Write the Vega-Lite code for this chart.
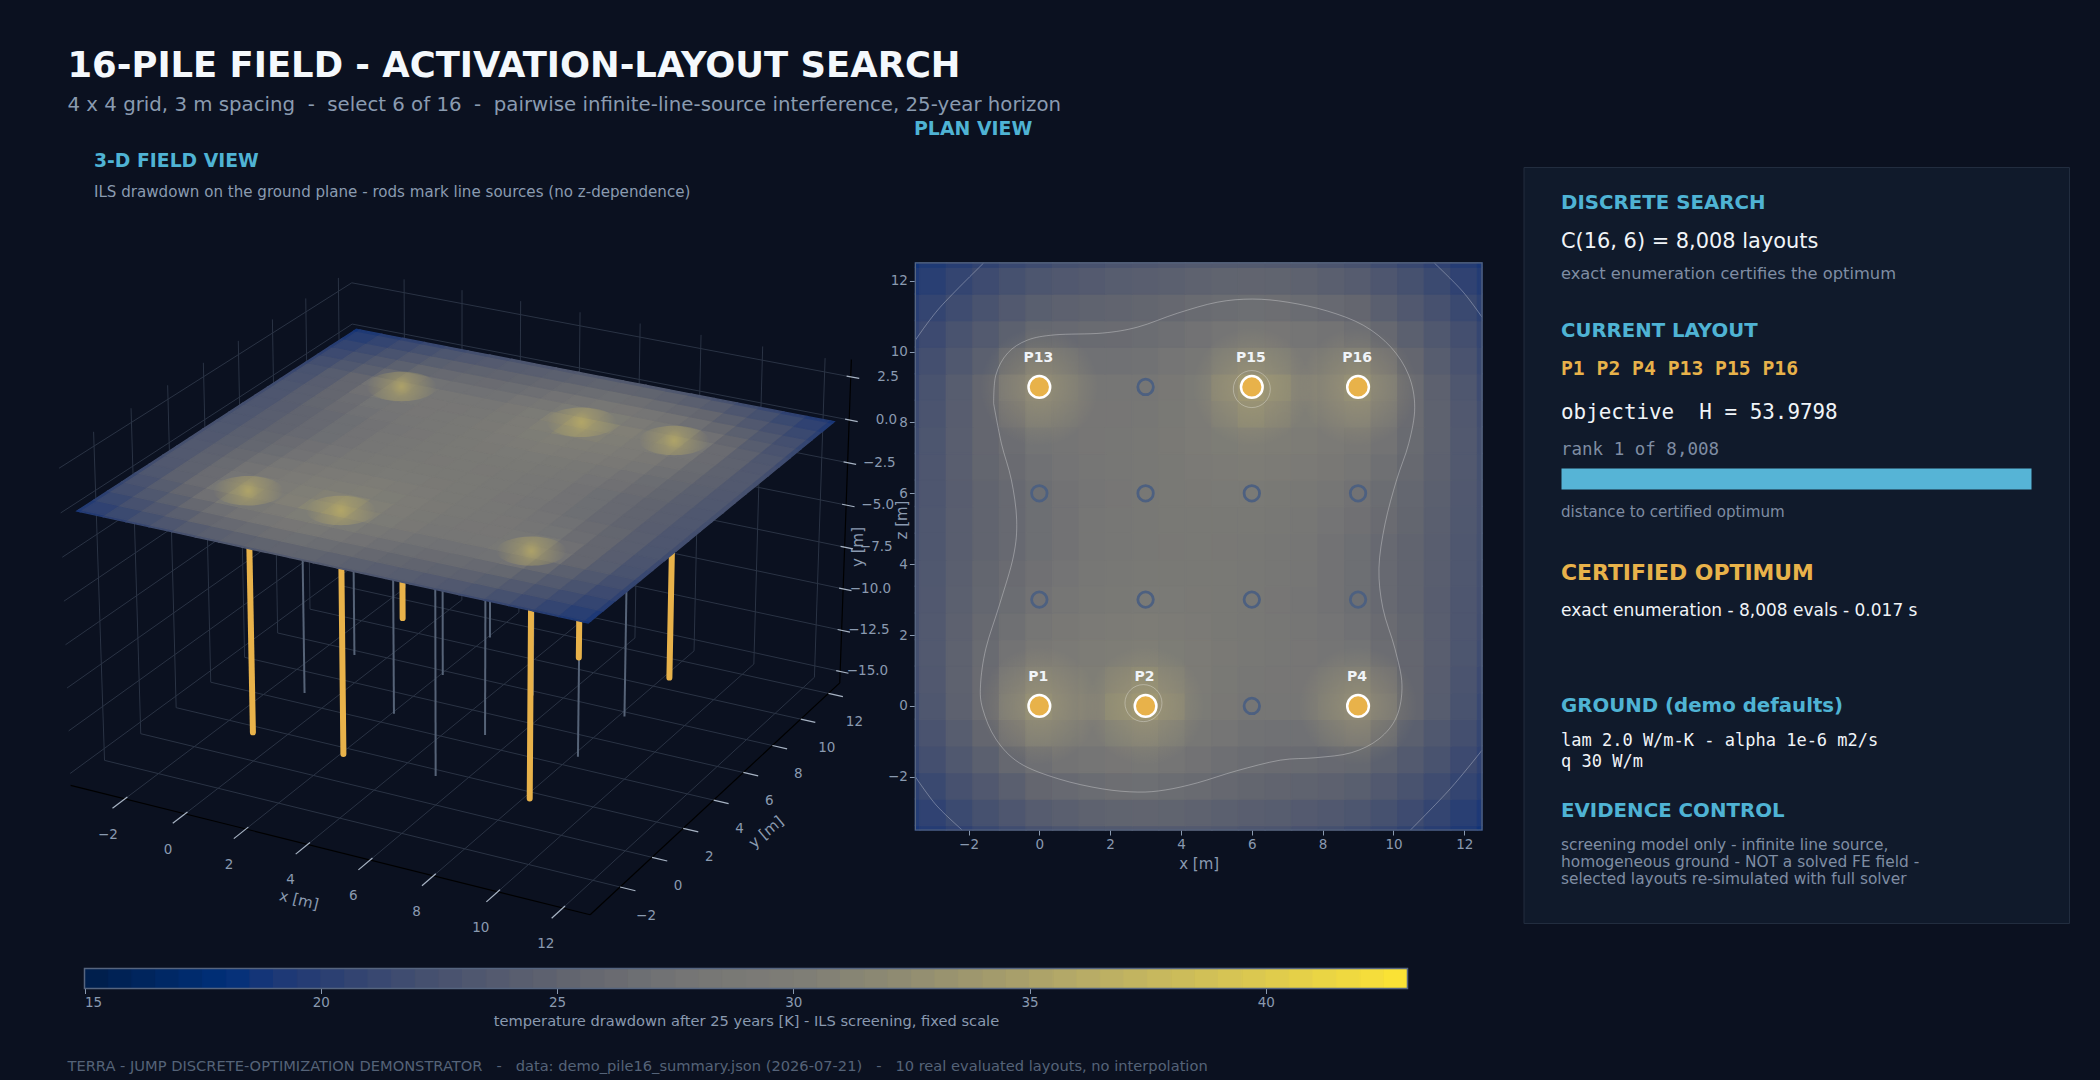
{"$schema":"https://vega.github.io/schema/vega-lite/v6.json","width":2100,"height":1080,"autosize":{"type":"fit","contains":"padding"},"padding":0,"background":"#0b1120",
"config":{"view":{"stroke":null},"axis":{"grid":false,"domain":false,"labelFont":"DejaVu Sans","labelFontSize":13.5,"labelColor":"#8a9ab0","tickColor":"#8a9ab0","tickSize":6,"titleFont":"DejaVu Sans","titleFontSize":15,"titleFontWeight":"normal","titleColor":"#8a9ab0"}},
"datasets":{
"field":[
{"x":-3.75,"y":-3.75,"t":18.8},{"x":-3,"y":-3.75,"t":19.5},{"x":-2.25,"y":-3.75,"t":20.3},{"x":-1.5,"y":-3.75,"t":21.0},{"x":-0.75,"y":-3.75,"t":21.6},{"x":0,"y":-3.75,"t":22.3},{"x":0.75,"y":-3.75,"t":22.7},{"x":1.5,"y":-3.75,"t":23.1},{"x":2.25,"y":-3.75,"t":23.3},{"x":3,"y":-3.75,"t":23.4},{"x":3.75,"y":-3.75,"t":23.4},{"x":4.5,"y":-3.75,"t":23.4},{"x":5.25,"y":-3.75,"t":23.2},{"x":6,"y":-3.75,"t":22.9},{"x":6.75,"y":-3.75,"t":22.7},{"x":7.5,"y":-3.75,"t":22.3},{"x":8.25,"y":-3.75,"t":22.0},{"x":9,"y":-3.75,"t":21.5},{"x":9.75,"y":-3.75,"t":21.0},{"x":10.5,"y":-3.75,"t":20.4},{"x":11.25,"y":-3.75,"t":19.7},{"x":12,"y":-3.75,"t":19.1},{"x":12.75,"y":-3.75,"t":18.4},
{"x":-3.75,"y":-3,"t":19.4},{"x":-3,"y":-3,"t":20.3},{"x":-2.25,"y":-3,"t":21.2},{"x":-1.5,"y":-3,"t":22.1},{"x":-0.75,"y":-3,"t":22.9},{"x":0,"y":-3,"t":23.7},{"x":0.75,"y":-3,"t":24.2},{"x":1.5,"y":-3,"t":24.6},{"x":2.25,"y":-3,"t":24.8},{"x":3,"y":-3,"t":24.9},{"x":3.75,"y":-3,"t":24.8},{"x":4.5,"y":-3,"t":24.6},{"x":5.25,"y":-3,"t":24.3},{"x":6,"y":-3,"t":24.0},{"x":6.75,"y":-3,"t":23.8},{"x":7.5,"y":-3,"t":23.5},{"x":8.25,"y":-3,"t":23.2},{"x":9,"y":-3,"t":22.8},{"x":9.75,"y":-3,"t":22.1},{"x":10.5,"y":-3,"t":21.4},{"x":11.25,"y":-3,"t":20.6},{"x":12,"y":-3,"t":19.8},{"x":12.75,"y":-3,"t":19.0},
{"x":-3.75,"y":-2.25,"t":20.1},{"x":-3,"y":-2.25,"t":21.1},{"x":-2.25,"y":-2.25,"t":22.2},{"x":-1.5,"y":-2.25,"t":23.2},{"x":-0.75,"y":-2.25,"t":24.2},{"x":0,"y":-2.25,"t":25.2},{"x":0.75,"y":-2.25,"t":25.7},{"x":1.5,"y":-2.25,"t":26.1},{"x":2.25,"y":-2.25,"t":26.4},{"x":3,"y":-2.25,"t":26.5},{"x":3.75,"y":-2.25,"t":26.2},{"x":4.5,"y":-2.25,"t":25.9},{"x":5.25,"y":-2.25,"t":25.5},{"x":6,"y":-2.25,"t":25.1},{"x":6.75,"y":-2.25,"t":24.9},{"x":7.5,"y":-2.25,"t":24.7},{"x":8.25,"y":-2.25,"t":24.5},{"x":9,"y":-2.25,"t":24.1},{"x":9.75,"y":-2.25,"t":23.3},{"x":10.5,"y":-2.25,"t":22.4},{"x":11.25,"y":-2.25,"t":21.5},{"x":12,"y":-2.25,"t":20.6},{"x":12.75,"y":-2.25,"t":19.7},
{"x":-3.75,"y":-1.5,"t":20.7},{"x":-3,"y":-1.5,"t":21.9},{"x":-2.25,"y":-1.5,"t":23.1},{"x":-1.5,"y":-1.5,"t":24.3},{"x":-0.75,"y":-1.5,"t":25.5},{"x":0,"y":-1.5,"t":26.6},{"x":0.75,"y":-1.5,"t":27.2},{"x":1.5,"y":-1.5,"t":27.6},{"x":2.25,"y":-1.5,"t":27.9},{"x":3,"y":-1.5,"t":28.0},{"x":3.75,"y":-1.5,"t":27.6},{"x":4.5,"y":-1.5,"t":27.1},{"x":5.25,"y":-1.5,"t":26.6},{"x":6,"y":-1.5,"t":26.2},{"x":6.75,"y":-1.5,"t":26.0},{"x":7.5,"y":-1.5,"t":25.9},{"x":8.25,"y":-1.5,"t":25.7},{"x":9,"y":-1.5,"t":25.4},{"x":9.75,"y":-1.5,"t":24.4},{"x":10.5,"y":-1.5,"t":23.4},{"x":11.25,"y":-1.5,"t":22.4},{"x":12,"y":-1.5,"t":21.3},{"x":12.75,"y":-1.5,"t":20.3},
{"x":-3.75,"y":-0.75,"t":21.1},{"x":-3,"y":-0.75,"t":22.5},{"x":-2.25,"y":-0.75,"t":23.8},{"x":-1.5,"y":-0.75,"t":25.2},{"x":-0.75,"y":-0.75,"t":26.8},{"x":0,"y":-0.75,"t":28.5},{"x":0.75,"y":-0.75,"t":28.3},{"x":1.5,"y":-0.75,"t":28.9},{"x":2.25,"y":-0.75,"t":29.6},{"x":3,"y":-0.75,"t":30.0},{"x":3.75,"y":-0.75,"t":29.1},{"x":4.5,"y":-0.75,"t":28.1},{"x":5.25,"y":-0.75,"t":27.5},{"x":6,"y":-0.75,"t":27.0},{"x":6.75,"y":-0.75,"t":26.9},{"x":7.5,"y":-0.75,"t":26.9},{"x":8.25,"y":-0.75,"t":27.0},{"x":9,"y":-0.75,"t":27.2},{"x":9.75,"y":-0.75,"t":25.8},{"x":10.5,"y":-0.75,"t":24.3},{"x":11.25,"y":-0.75,"t":23.1},{"x":12,"y":-0.75,"t":21.9},{"x":12.75,"y":-0.75,"t":20.7},
{"x":-3.75,"y":0,"t":21.5},{"x":-3,"y":0,"t":23.0},{"x":-2.25,"y":0,"t":24.5},{"x":-1.5,"y":0,"t":26.0},{"x":-0.75,"y":0,"t":28.0},{"x":0,"y":0,"t":30.4},{"x":0.75,"y":0,"t":29.4},{"x":1.5,"y":0,"t":30.2},{"x":2.25,"y":0,"t":31.2},{"x":3,"y":0,"t":31.9},{"x":3.75,"y":0,"t":30.6},{"x":4.5,"y":0,"t":29.1},{"x":5.25,"y":0,"t":28.4},{"x":6,"y":0,"t":27.8},{"x":6.75,"y":0,"t":27.7},{"x":7.5,"y":0,"t":27.8},{"x":8.25,"y":0,"t":28.3},{"x":9,"y":0,"t":29.0},{"x":9.75,"y":0,"t":27.2},{"x":10.5,"y":0,"t":25.2},{"x":11.25,"y":0,"t":23.8},{"x":12,"y":0,"t":22.4},{"x":12.75,"y":0,"t":21.0},
{"x":-3.75,"y":0.75,"t":21.8},{"x":-3,"y":0.75,"t":23.2},{"x":-2.25,"y":0.75,"t":24.6},{"x":-1.5,"y":0.75,"t":26.0},{"x":-0.75,"y":0.75,"t":27.6},{"x":0,"y":0.75,"t":29.4},{"x":0.75,"y":0.75,"t":29.2},{"x":1.5,"y":0.75,"t":29.9},{"x":2.25,"y":0.75,"t":30.5},{"x":3,"y":0.75,"t":31.0},{"x":3.75,"y":0.75,"t":30.1},{"x":4.5,"y":0.75,"t":29.2},{"x":5.25,"y":0.75,"t":28.6},{"x":6,"y":0.75,"t":28.1},{"x":6.75,"y":0.75,"t":27.9},{"x":7.5,"y":0.75,"t":27.9},{"x":8.25,"y":0.75,"t":28.0},{"x":9,"y":0.75,"t":28.2},{"x":9.75,"y":0.75,"t":26.8},{"x":10.5,"y":0.75,"t":25.2},{"x":11.25,"y":0.75,"t":23.9},{"x":12,"y":0.75,"t":22.6},{"x":12.75,"y":0.75,"t":21.3},
{"x":-3.75,"y":1.5,"t":22.0},{"x":-3,"y":1.5,"t":23.3},{"x":-2.25,"y":1.5,"t":24.6},{"x":-1.5,"y":1.5,"t":25.9},{"x":-0.75,"y":1.5,"t":27.2},{"x":0,"y":1.5,"t":28.4},{"x":0.75,"y":1.5,"t":29.0},{"x":1.5,"y":1.5,"t":29.5},{"x":2.25,"y":1.5,"t":29.8},{"x":3,"y":1.5,"t":30.0},{"x":3.75,"y":1.5,"t":29.6},{"x":4.5,"y":1.5,"t":29.2},{"x":5.25,"y":1.5,"t":28.7},{"x":6,"y":1.5,"t":28.3},{"x":6.75,"y":1.5,"t":28.1},{"x":7.5,"y":1.5,"t":27.9},{"x":8.25,"y":1.5,"t":27.6},{"x":9,"y":1.5,"t":27.3},{"x":9.75,"y":1.5,"t":26.3},{"x":10.5,"y":1.5,"t":25.2},{"x":11.25,"y":1.5,"t":24.0},{"x":12,"y":1.5,"t":22.8},{"x":12.75,"y":1.5,"t":21.6},
{"x":-3.75,"y":2.25,"t":22.1},{"x":-3,"y":2.25,"t":23.3},{"x":-2.25,"y":2.25,"t":24.5},{"x":-1.5,"y":2.25,"t":25.6},{"x":-0.75,"y":2.25,"t":26.7},{"x":0,"y":2.25,"t":27.8},{"x":0.75,"y":2.25,"t":28.4},{"x":1.5,"y":2.25,"t":28.9},{"x":2.25,"y":2.25,"t":29.2},{"x":3,"y":2.25,"t":29.4},{"x":3.75,"y":2.25,"t":29.2},{"x":4.5,"y":2.25,"t":29.0},{"x":5.25,"y":2.25,"t":28.6},{"x":6,"y":2.25,"t":28.3},{"x":6.75,"y":2.25,"t":28.0},{"x":7.5,"y":2.25,"t":27.8},{"x":8.25,"y":2.25,"t":27.4},{"x":9,"y":2.25,"t":26.9},{"x":9.75,"y":2.25,"t":26.0},{"x":10.5,"y":2.25,"t":25.1},{"x":11.25,"y":2.25,"t":24.0},{"x":12,"y":2.25,"t":22.9},{"x":12.75,"y":2.25,"t":21.8},
{"x":-3.75,"y":3,"t":22.2},{"x":-3,"y":3,"t":23.2},{"x":-2.25,"y":3,"t":24.3},{"x":-1.5,"y":3,"t":25.3},{"x":-0.75,"y":3,"t":26.2},{"x":0,"y":3,"t":27.1},{"x":0.75,"y":3,"t":27.7},{"x":1.5,"y":3,"t":28.3},{"x":2.25,"y":3,"t":28.6},{"x":3,"y":3,"t":28.8},{"x":3.75,"y":3,"t":28.8},{"x":4.5,"y":3,"t":28.7},{"x":5.25,"y":3,"t":28.5},{"x":6,"y":3,"t":28.2},{"x":6.75,"y":3,"t":27.9},{"x":7.5,"y":3,"t":27.6},{"x":8.25,"y":3,"t":27.1},{"x":9,"y":3,"t":26.5},{"x":9.75,"y":3,"t":25.7},{"x":10.5,"y":3,"t":24.9},{"x":11.25,"y":3,"t":23.9},{"x":12,"y":3,"t":22.9},{"x":12.75,"y":3,"t":21.9},
{"x":-3.75,"y":3.75,"t":22.2},{"x":-3,"y":3.75,"t":23.1},{"x":-2.25,"y":3.75,"t":24.2},{"x":-1.5,"y":3.75,"t":25.1},{"x":-0.75,"y":3.75,"t":26.0},{"x":0,"y":3.75,"t":26.8},{"x":0.75,"y":3.75,"t":27.4},{"x":1.5,"y":3.75,"t":28.0},{"x":2.25,"y":3.75,"t":28.3},{"x":3,"y":3.75,"t":28.6},{"x":3.75,"y":3.75,"t":28.6},{"x":4.5,"y":3.75,"t":28.6},{"x":5.25,"y":3.75,"t":28.5},{"x":6,"y":3.75,"t":28.3},{"x":6.75,"y":3.75,"t":28.0},{"x":7.5,"y":3.75,"t":27.7},{"x":8.25,"y":3.75,"t":27.1},{"x":9,"y":3.75,"t":26.5},{"x":9.75,"y":3.75,"t":25.7},{"x":10.5,"y":3.75,"t":24.9},{"x":11.25,"y":3.75,"t":24.0},{"x":12,"y":3.75,"t":23.0},{"x":12.75,"y":3.75,"t":22.0},
{"x":-3.75,"y":4.5,"t":22.1},{"x":-3,"y":4.5,"t":23.0},{"x":-2.25,"y":4.5,"t":24.0},{"x":-1.5,"y":4.5,"t":24.9},{"x":-0.75,"y":4.5,"t":25.7},{"x":0,"y":4.5,"t":26.5},{"x":0.75,"y":4.5,"t":27.1},{"x":1.5,"y":4.5,"t":27.7},{"x":2.25,"y":4.5,"t":28.0},{"x":3,"y":4.5,"t":28.3},{"x":3.75,"y":4.5,"t":28.4},{"x":4.5,"y":4.5,"t":28.5},{"x":5.25,"y":4.5,"t":28.4},{"x":6,"y":4.5,"t":28.3},{"x":6.75,"y":4.5,"t":28.0},{"x":7.5,"y":4.5,"t":27.7},{"x":8.25,"y":4.5,"t":27.1},{"x":9,"y":4.5,"t":26.5},{"x":9.75,"y":4.5,"t":25.7},{"x":10.5,"y":4.5,"t":24.9},{"x":11.25,"y":4.5,"t":24.0},{"x":12,"y":4.5,"t":23.0},{"x":12.75,"y":4.5,"t":22.1},
{"x":-3.75,"y":5.25,"t":22.0},{"x":-3,"y":5.25,"t":23.0},{"x":-2.25,"y":5.25,"t":24.0},{"x":-1.5,"y":5.25,"t":24.9},{"x":-0.75,"y":5.25,"t":25.7},{"x":0,"y":5.25,"t":26.5},{"x":0.75,"y":5.25,"t":27.1},{"x":1.5,"y":5.25,"t":27.7},{"x":2.25,"y":5.25,"t":28.0},{"x":3,"y":5.25,"t":28.3},{"x":3.75,"y":5.25,"t":28.5},{"x":4.5,"y":5.25,"t":28.6},{"x":5.25,"y":5.25,"t":28.6},{"x":6,"y":5.25,"t":28.6},{"x":6.75,"y":5.25,"t":28.3},{"x":7.5,"y":5.25,"t":28.0},{"x":8.25,"y":5.25,"t":27.4},{"x":9,"y":5.25,"t":26.8},{"x":9.75,"y":5.25,"t":26.0},{"x":10.5,"y":5.25,"t":25.1},{"x":11.25,"y":5.25,"t":24.2},{"x":12,"y":5.25,"t":23.1},{"x":12.75,"y":5.25,"t":22.2},
{"x":-3.75,"y":6,"t":21.9},{"x":-3,"y":6,"t":22.9},{"x":-2.25,"y":6,"t":23.9},{"x":-1.5,"y":6,"t":24.9},{"x":-0.75,"y":6,"t":25.7},{"x":0,"y":6,"t":26.5},{"x":0.75,"y":6,"t":27.1},{"x":1.5,"y":6,"t":27.6},{"x":2.25,"y":6,"t":27.9},{"x":3,"y":6,"t":28.2},{"x":3.75,"y":6,"t":28.5},{"x":4.5,"y":6,"t":28.7},{"x":5.25,"y":6,"t":28.8},{"x":6,"y":6,"t":28.8},{"x":6.75,"y":6,"t":28.6},{"x":7.5,"y":6,"t":28.3},{"x":8.25,"y":6,"t":27.7},{"x":9,"y":6,"t":27.1},{"x":9.75,"y":6,"t":26.2},{"x":10.5,"y":6,"t":25.3},{"x":11.25,"y":6,"t":24.3},{"x":12,"y":6,"t":23.2},{"x":12.75,"y":6,"t":22.2},
{"x":-3.75,"y":6.75,"t":21.8},{"x":-3,"y":6.75,"t":22.9},{"x":-2.25,"y":6.75,"t":24.0},{"x":-1.5,"y":6.75,"t":25.1},{"x":-0.75,"y":6.75,"t":26.0},{"x":0,"y":6.75,"t":26.9},{"x":0.75,"y":6.75,"t":27.4},{"x":1.5,"y":6.75,"t":27.8},{"x":2.25,"y":6.75,"t":28.0},{"x":3,"y":6.75,"t":28.3},{"x":3.75,"y":6.75,"t":28.6},{"x":4.5,"y":6.75,"t":29.0},{"x":5.25,"y":6.75,"t":29.2},{"x":6,"y":6.75,"t":29.4},{"x":6.75,"y":6.75,"t":29.2},{"x":7.5,"y":6.75,"t":28.9},{"x":8.25,"y":6.75,"t":28.4},{"x":9,"y":6.75,"t":27.8},{"x":9.75,"y":6.75,"t":26.7},{"x":10.5,"y":6.75,"t":25.6},{"x":11.25,"y":6.75,"t":24.5},{"x":12,"y":6.75,"t":23.3},{"x":12.75,"y":6.75,"t":22.1},
{"x":-3.75,"y":7.5,"t":21.6},{"x":-3,"y":7.5,"t":22.8},{"x":-2.25,"y":7.5,"t":24.0},{"x":-1.5,"y":7.5,"t":25.2},{"x":-0.75,"y":7.5,"t":26.3},{"x":0,"y":7.5,"t":27.3},{"x":0.75,"y":7.5,"t":27.6},{"x":1.5,"y":7.5,"t":27.9},{"x":2.25,"y":7.5,"t":28.1},{"x":3,"y":7.5,"t":28.3},{"x":3.75,"y":7.5,"t":28.7},{"x":4.5,"y":7.5,"t":29.2},{"x":5.25,"y":7.5,"t":29.6},{"x":6,"y":7.5,"t":30.0},{"x":6.75,"y":7.5,"t":29.8},{"x":7.5,"y":7.5,"t":29.5},{"x":8.25,"y":7.5,"t":29.0},{"x":9,"y":7.5,"t":28.4},{"x":9.75,"y":7.5,"t":27.2},{"x":10.5,"y":7.5,"t":25.9},{"x":11.25,"y":7.5,"t":24.6},{"x":12,"y":7.5,"t":23.3},{"x":12.75,"y":7.5,"t":22.0},
{"x":-3.75,"y":8.25,"t":21.3},{"x":-3,"y":8.25,"t":22.6},{"x":-2.25,"y":8.25,"t":23.9},{"x":-1.5,"y":8.25,"t":25.2},{"x":-0.75,"y":8.25,"t":26.8},{"x":0,"y":8.25,"t":28.2},{"x":0.75,"y":8.25,"t":28.0},{"x":1.5,"y":8.25,"t":27.9},{"x":2.25,"y":8.25,"t":27.9},{"x":3,"y":8.25,"t":28.1},{"x":3.75,"y":8.25,"t":28.6},{"x":4.5,"y":8.25,"t":29.2},{"x":5.25,"y":8.25,"t":30.1},{"x":6,"y":8.25,"t":31.0},{"x":6.75,"y":8.25,"t":30.5},{"x":7.5,"y":8.25,"t":29.9},{"x":8.25,"y":8.25,"t":29.2},{"x":9,"y":8.25,"t":29.4},{"x":9.75,"y":8.25,"t":27.6},{"x":10.5,"y":8.25,"t":26.0},{"x":11.25,"y":8.25,"t":24.6},{"x":12,"y":8.25,"t":23.2},{"x":12.75,"y":8.25,"t":21.8},
{"x":-3.75,"y":9,"t":21.0},{"x":-3,"y":9,"t":22.4},{"x":-2.25,"y":9,"t":23.8},{"x":-1.5,"y":9,"t":25.2},{"x":-0.75,"y":9,"t":27.2},{"x":0,"y":9,"t":29.0},{"x":0.75,"y":9,"t":28.3},{"x":1.5,"y":9,"t":27.8},{"x":2.25,"y":9,"t":27.7},{"x":3,"y":9,"t":27.8},{"x":3.75,"y":9,"t":28.4},{"x":4.5,"y":9,"t":29.1},{"x":5.25,"y":9,"t":30.6},{"x":6,"y":9,"t":31.9},{"x":6.75,"y":9,"t":31.2},{"x":7.5,"y":9,"t":30.2},{"x":8.25,"y":9,"t":29.4},{"x":9,"y":9,"t":30.4},{"x":9.75,"y":9,"t":28.0},{"x":10.5,"y":9,"t":26.0},{"x":11.25,"y":9,"t":24.5},{"x":12,"y":9,"t":23.0},{"x":12.75,"y":9,"t":21.5},
{"x":-3.75,"y":9.75,"t":20.7},{"x":-3,"y":9.75,"t":21.9},{"x":-2.25,"y":9.75,"t":23.1},{"x":-1.5,"y":9.75,"t":24.3},{"x":-0.75,"y":9.75,"t":25.8},{"x":0,"y":9.75,"t":27.2},{"x":0.75,"y":9.75,"t":27.0},{"x":1.5,"y":9.75,"t":26.9},{"x":2.25,"y":9.75,"t":26.9},{"x":3,"y":9.75,"t":27.0},{"x":3.75,"y":9.75,"t":27.5},{"x":4.5,"y":9.75,"t":28.1},{"x":5.25,"y":9.75,"t":29.1},{"x":6,"y":9.75,"t":30.0},{"x":6.75,"y":9.75,"t":29.6},{"x":7.5,"y":9.75,"t":28.9},{"x":8.25,"y":9.75,"t":28.3},{"x":9,"y":9.75,"t":28.5},{"x":9.75,"y":9.75,"t":26.8},{"x":10.5,"y":9.75,"t":25.2},{"x":11.25,"y":9.75,"t":23.8},{"x":12,"y":9.75,"t":22.5},{"x":12.75,"y":9.75,"t":21.1},
{"x":-3.75,"y":10.5,"t":20.3},{"x":-3,"y":10.5,"t":21.3},{"x":-2.25,"y":10.5,"t":22.4},{"x":-1.5,"y":10.5,"t":23.4},{"x":-0.75,"y":10.5,"t":24.4},{"x":0,"y":10.5,"t":25.4},{"x":0.75,"y":10.5,"t":25.7},{"x":1.5,"y":10.5,"t":25.9},{"x":2.25,"y":10.5,"t":26.0},{"x":3,"y":10.5,"t":26.2},{"x":3.75,"y":10.5,"t":26.6},{"x":4.5,"y":10.5,"t":27.1},{"x":5.25,"y":10.5,"t":27.6},{"x":6,"y":10.5,"t":28.0},{"x":6.75,"y":10.5,"t":27.9},{"x":7.5,"y":10.5,"t":27.6},{"x":8.25,"y":10.5,"t":27.2},{"x":9,"y":10.5,"t":26.6},{"x":9.75,"y":10.5,"t":25.5},{"x":10.5,"y":10.5,"t":24.3},{"x":11.25,"y":10.5,"t":23.1},{"x":12,"y":10.5,"t":21.9},{"x":12.75,"y":10.5,"t":20.7},
{"x":-3.75,"y":11.25,"t":19.7},{"x":-3,"y":11.25,"t":20.6},{"x":-2.25,"y":11.25,"t":21.5},{"x":-1.5,"y":11.25,"t":22.4},{"x":-0.75,"y":11.25,"t":23.3},{"x":0,"y":11.25,"t":24.1},{"x":0.75,"y":11.25,"t":24.5},{"x":1.5,"y":11.25,"t":24.7},{"x":2.25,"y":11.25,"t":24.9},{"x":3,"y":11.25,"t":25.1},{"x":3.75,"y":11.25,"t":25.5},{"x":4.5,"y":11.25,"t":25.9},{"x":5.25,"y":11.25,"t":26.2},{"x":6,"y":11.25,"t":26.5},{"x":6.75,"y":11.25,"t":26.4},{"x":7.5,"y":11.25,"t":26.1},{"x":8.25,"y":11.25,"t":25.7},{"x":9,"y":11.25,"t":25.2},{"x":9.75,"y":11.25,"t":24.2},{"x":10.5,"y":11.25,"t":23.2},{"x":11.25,"y":11.25,"t":22.2},{"x":12,"y":11.25,"t":21.1},{"x":12.75,"y":11.25,"t":20.1},
{"x":-3.75,"y":12,"t":19.0},{"x":-3,"y":12,"t":19.8},{"x":-2.25,"y":12,"t":20.6},{"x":-1.5,"y":12,"t":21.4},{"x":-0.75,"y":12,"t":22.1},{"x":0,"y":12,"t":22.8},{"x":0.75,"y":12,"t":23.2},{"x":1.5,"y":12,"t":23.5},{"x":2.25,"y":12,"t":23.8},{"x":3,"y":12,"t":24.0},{"x":3.75,"y":12,"t":24.3},{"x":4.5,"y":12,"t":24.6},{"x":5.25,"y":12,"t":24.8},{"x":6,"y":12,"t":24.9},{"x":6.75,"y":12,"t":24.8},{"x":7.5,"y":12,"t":24.6},{"x":8.25,"y":12,"t":24.2},{"x":9,"y":12,"t":23.7},{"x":9.75,"y":12,"t":22.9},{"x":10.5,"y":12,"t":22.1},{"x":11.25,"y":12,"t":21.2},{"x":12,"y":12,"t":20.3},{"x":12.75,"y":12,"t":19.4},
{"x":-3.75,"y":12.75,"t":18.4},{"x":-3,"y":12.75,"t":19.1},{"x":-2.25,"y":12.75,"t":19.7},{"x":-1.5,"y":12.75,"t":20.4},{"x":-0.75,"y":12.75,"t":21.0},{"x":0,"y":12.75,"t":21.5},{"x":0.75,"y":12.75,"t":22.0},{"x":1.5,"y":12.75,"t":22.3},{"x":2.25,"y":12.75,"t":22.7},{"x":3,"y":12.75,"t":22.9},{"x":3.75,"y":12.75,"t":23.2},{"x":4.5,"y":12.75,"t":23.4},{"x":5.25,"y":12.75,"t":23.4},{"x":6,"y":12.75,"t":23.4},{"x":6.75,"y":12.75,"t":23.3},{"x":7.5,"y":12.75,"t":23.1},{"x":8.25,"y":12.75,"t":22.7},{"x":9,"y":12.75,"t":22.3},{"x":9.75,"y":12.75,"t":21.6},{"x":10.5,"y":12.75,"t":21.0},{"x":11.25,"y":12.75,"t":20.3},{"x":12,"y":12.75,"t":19.5},{"x":12.75,"y":12.75,"t":18.8}],
"piles":[{"pile":"P1","x":0,"y":0,"active":true,"d":-14},{"pile":"P2","x":3,"y":0,"active":true,"d":-14},{"pile":"P3","x":6,"y":0,"active":false,"d":-14},{"pile":"P4","x":9,"y":0,"active":true,"d":-14},{"pile":"P5","x":0,"y":3,"active":false,"d":-14},{"pile":"P6","x":3,"y":3,"active":false,"d":-14},{"pile":"P7","x":6,"y":3,"active":false,"d":-14},{"pile":"P8","x":9,"y":3,"active":false,"d":-14},{"pile":"P9","x":0,"y":6,"active":false,"d":-14},{"pile":"P10","x":3,"y":6,"active":false,"d":-14},{"pile":"P11","x":6,"y":6,"active":false,"d":-14},{"pile":"P12","x":9,"y":6,"active":false,"d":-14},{"pile":"P13","x":0,"y":9,"active":true,"d":-14},{"pile":"P14","x":3,"y":9,"active":false,"d":-14},{"pile":"P15","x":6,"y":9,"active":true,"d":-14},{"pile":"P16","x":9,"y":9,"active":true,"d":-14}],
"grid":[
{"x":-2,"y":-3.83,"z":-15.7,"x2":-2,"y2":12.83,"z2":-15.7},{"x":0,"y":-3.83,"z":-15.7,"x2":0,"y2":12.83,"z2":-15.7},{"x":2,"y":-3.83,"z":-15.7,"x2":2,"y2":12.83,"z2":-15.7},{"x":4,"y":-3.83,"z":-15.7,"x2":4,"y2":12.83,"z2":-15.7},{"x":6,"y":-3.83,"z":-15.7,"x2":6,"y2":12.83,"z2":-15.7},{"x":8,"y":-3.83,"z":-15.7,"x2":8,"y2":12.83,"z2":-15.7},{"x":10,"y":-3.83,"z":-15.7,"x2":10,"y2":12.83,"z2":-15.7},{"x":12,"y":-3.83,"z":-15.7,"x2":12,"y2":12.83,"z2":-15.7},
{"x":-3.83,"y":-2,"z":-15.7,"x2":12.83,"y2":-2,"z2":-15.7},{"x":-3.83,"y":0,"z":-15.7,"x2":12.83,"y2":0,"z2":-15.7},{"x":-3.83,"y":2,"z":-15.7,"x2":12.83,"y2":2,"z2":-15.7},{"x":-3.83,"y":4,"z":-15.7,"x2":12.83,"y2":4,"z2":-15.7},{"x":-3.83,"y":6,"z":-15.7,"x2":12.83,"y2":6,"z2":-15.7},{"x":-3.83,"y":8,"z":-15.7,"x2":12.83,"y2":8,"z2":-15.7},{"x":-3.83,"y":10,"z":-15.7,"x2":12.83,"y2":10,"z2":-15.7},{"x":-3.83,"y":12,"z":-15.7,"x2":12.83,"y2":12,"z2":-15.7},
{"x":-3.83,"y":-2,"z":-15.7,"x2":-3.83,"y2":-2,"z2":3.3},{"x":-3.83,"y":0,"z":-15.7,"x2":-3.83,"y2":0,"z2":3.3},{"x":-3.83,"y":2,"z":-15.7,"x2":-3.83,"y2":2,"z2":3.3},{"x":-3.83,"y":4,"z":-15.7,"x2":-3.83,"y2":4,"z2":3.3},{"x":-3.83,"y":6,"z":-15.7,"x2":-3.83,"y2":6,"z2":3.3},{"x":-3.83,"y":8,"z":-15.7,"x2":-3.83,"y2":8,"z2":3.3},{"x":-3.83,"y":10,"z":-15.7,"x2":-3.83,"y2":10,"z2":3.3},{"x":-3.83,"y":12,"z":-15.7,"x2":-3.83,"y2":12,"z2":3.3},
{"x":-2,"y":12.83,"z":-15.7,"x2":-2,"y2":12.83,"z2":3.3},{"x":0,"y":12.83,"z":-15.7,"x2":0,"y2":12.83,"z2":3.3},{"x":2,"y":12.83,"z":-15.7,"x2":2,"y2":12.83,"z2":3.3},{"x":4,"y":12.83,"z":-15.7,"x2":4,"y2":12.83,"z2":3.3},{"x":6,"y":12.83,"z":-15.7,"x2":6,"y2":12.83,"z2":3.3},{"x":8,"y":12.83,"z":-15.7,"x2":8,"y2":12.83,"z2":3.3},{"x":10,"y":12.83,"z":-15.7,"x2":10,"y2":12.83,"z2":3.3},{"x":12,"y":12.83,"z":-15.7,"x2":12,"y2":12.83,"z2":3.3},
{"x":-3.83,"y":-3.83,"z":2.5,"x2":-3.83,"y2":12.83,"z2":2.5},{"x":-3.83,"y":-3.83,"z":0,"x2":-3.83,"y2":12.83,"z2":0},{"x":-3.83,"y":-3.83,"z":-2.5,"x2":-3.83,"y2":12.83,"z2":-2.5},{"x":-3.83,"y":-3.83,"z":-5,"x2":-3.83,"y2":12.83,"z2":-5},{"x":-3.83,"y":-3.83,"z":-7.5,"x2":-3.83,"y2":12.83,"z2":-7.5},{"x":-3.83,"y":-3.83,"z":-10,"x2":-3.83,"y2":12.83,"z2":-10},{"x":-3.83,"y":-3.83,"z":-12.5,"x2":-3.83,"y2":12.83,"z2":-12.5},{"x":-3.83,"y":-3.83,"z":-15,"x2":-3.83,"y2":12.83,"z2":-15},
{"x":-3.83,"y":12.83,"z":2.5,"x2":12.83,"y2":12.83,"z2":2.5},{"x":-3.83,"y":12.83,"z":0,"x2":12.83,"y2":12.83,"z2":0},{"x":-3.83,"y":12.83,"z":-2.5,"x2":12.83,"y2":12.83,"z2":-2.5},{"x":-3.83,"y":12.83,"z":-5,"x2":12.83,"y2":12.83,"z2":-5},{"x":-3.83,"y":12.83,"z":-7.5,"x2":12.83,"y2":12.83,"z2":-7.5},{"x":-3.83,"y":12.83,"z":-10,"x2":12.83,"y2":12.83,"z2":-10},{"x":-3.83,"y":12.83,"z":-12.5,"x2":12.83,"y2":12.83,"z2":-12.5},{"x":-3.83,"y":12.83,"z":-15,"x2":12.83,"y2":12.83,"z2":-15}],
"edges":[{"x":-3.83,"y":-3.83,"z":-15.7,"x2":12.83,"y2":-3.83,"z2":-15.7},{"x":12.83,"y":-3.83,"z":-15.7,"x2":12.83,"y2":12.83,"z2":-15.7},{"x":12.83,"y":12.83,"z":-15.7,"x2":12.83,"y2":12.83,"z2":3.5}],
"ticks":[
{"x":-2,"y":-3.7,"z":-15.7,"x2":-2,"y2":-4.5,"z2":-15.7},{"x":0,"y":-3.7,"z":-15.7,"x2":0,"y2":-4.5,"z2":-15.7},{"x":2,"y":-3.7,"z":-15.7,"x2":2,"y2":-4.5,"z2":-15.7},{"x":4,"y":-3.7,"z":-15.7,"x2":4,"y2":-4.5,"z2":-15.7},{"x":6,"y":-3.7,"z":-15.7,"x2":6,"y2":-4.5,"z2":-15.7},{"x":8,"y":-3.7,"z":-15.7,"x2":8,"y2":-4.5,"z2":-15.7},{"x":10,"y":-3.7,"z":-15.7,"x2":10,"y2":-4.5,"z2":-15.7},{"x":12,"y":-3.7,"z":-15.7,"x2":12,"y2":-4.5,"z2":-15.7},
{"x":12.83,"y":-2,"z":-15.7,"x2":13.3,"y2":-2,"z2":-15.7},{"x":12.83,"y":0,"z":-15.7,"x2":13.3,"y2":0,"z2":-15.7},{"x":12.83,"y":2,"z":-15.7,"x2":13.3,"y2":2,"z2":-15.7},{"x":12.83,"y":4,"z":-15.7,"x2":13.3,"y2":4,"z2":-15.7},{"x":12.83,"y":6,"z":-15.7,"x2":13.3,"y2":6,"z2":-15.7},{"x":12.83,"y":8,"z":-15.7,"x2":13.3,"y2":8,"z2":-15.7},{"x":12.83,"y":10,"z":-15.7,"x2":13.3,"y2":10,"z2":-15.7},{"x":12.83,"y":12,"z":-15.7,"x2":13.3,"y2":12,"z2":-15.7},
{"x":12.7,"y":12.83,"z":2.5,"x2":13.1,"y2":12.83,"z2":2.5},{"x":12.7,"y":12.83,"z":0,"x2":13.1,"y2":12.83,"z2":0},{"x":12.7,"y":12.83,"z":-2.5,"x2":13.1,"y2":12.83,"z2":-2.5},{"x":12.7,"y":12.83,"z":-5,"x2":13.1,"y2":12.83,"z2":-5},{"x":12.7,"y":12.83,"z":-7.5,"x2":13.1,"y2":12.83,"z2":-7.5},{"x":12.7,"y":12.83,"z":-10,"x2":13.1,"y2":12.83,"z2":-10},{"x":12.7,"y":12.83,"z":-12.5,"x2":13.1,"y2":12.83,"z2":-12.5},{"x":12.7,"y":12.83,"z":-15,"x2":13.1,"y2":12.83,"z2":-15}],
"xlab":[{"x":-2,"y":-3.83,"z":-15.7,"l":"−2"},{"x":0,"y":-3.83,"z":-15.7,"l":"0"},{"x":2,"y":-3.83,"z":-15.7,"l":"2"},{"x":4,"y":-3.83,"z":-15.7,"l":"4"},{"x":6,"y":-3.83,"z":-15.7,"l":"6"},{"x":8,"y":-3.83,"z":-15.7,"l":"8"},{"x":10,"y":-3.83,"z":-15.7,"l":"10"},{"x":12,"y":-3.83,"z":-15.7,"l":"12"}],
"ylab":[{"x":12.83,"y":-2,"z":-15.7,"l":"−2"},{"x":12.83,"y":0,"z":-15.7,"l":"0"},{"x":12.83,"y":2,"z":-15.7,"l":"2"},{"x":12.83,"y":4,"z":-15.7,"l":"4"},{"x":12.83,"y":6,"z":-15.7,"l":"6"},{"x":12.83,"y":8,"z":-15.7,"l":"8"},{"x":12.83,"y":10,"z":-15.7,"l":"10"},{"x":12.83,"y":12,"z":-15.7,"l":"12"}],
"zlab":[{"x":12.83,"y":12.83,"z":2.5,"l":"2.5"},{"x":12.83,"y":12.83,"z":0,"l":"0.0"},{"x":12.83,"y":12.83,"z":-2.5,"l":"−2.5"},{"x":12.83,"y":12.83,"z":-5,"l":"−5.0"},{"x":12.83,"y":12.83,"z":-7.5,"l":"−7.5"},{"x":12.83,"y":12.83,"z":-10,"l":"−10.0"},{"x":12.83,"y":12.83,"z":-12.5,"l":"−12.5"},{"x":12.83,"y":12.83,"z":-15,"l":"−15.0"}],
"contours":[
{"c":"m","i":0,"x":-1.29,"y":8.53},{"c":"m","i":1,"x":-1.23,"y":9.33},{"c":"m","i":2,"x":-0.9,"y":9.95},{"c":"m","i":3,"x":-0.34,"y":10.32},{"c":"m","i":4,"x":0.44,"y":10.47},{"c":"m","i":5,"x":1.78,"y":10.52},{"c":"m","i":6,"x":2.78,"y":10.69},{"c":"m","i":7,"x":3.9,"y":11.08},{"c":"m","i":8,"x":5.02,"y":11.39},{"c":"m","i":9,"x":6.02,"y":11.48},{"c":"m","i":10,"x":7.02,"y":11.39},{"c":"m","i":11,"x":8.14,"y":11.14},{"c":"m","i":12,"x":9.15,"y":10.74},{"c":"m","i":13,"x":9.93,"y":10.12},{"c":"m","i":14,"x":10.43,"y":9.33},{"c":"m","i":15,"x":10.6,"y":8.42},{"c":"m","i":16,"x":10.43,"y":7.4},{"c":"m","i":17,"x":10.09,"y":6.38},{"c":"m","i":18,"x":9.76,"y":5.13},{"c":"m","i":19,"x":9.59,"y":3.89},{"c":"m","i":20,"x":9.7,"y":2.76},{"c":"m","i":21,"x":10.04,"y":1.62},{"c":"m","i":22,"x":10.24,"y":0.6},{"c":"m","i":23,"x":10.09,"y":-0.3},{"c":"m","i":24,"x":9.59,"y":-0.93},{"c":"m","i":25,"x":8.81,"y":-1.32},{"c":"m","i":26,"x":7.81,"y":-1.46},{"c":"m","i":27,"x":6.8,"y":-1.53},{"c":"m","i":28,"x":5.57,"y":-1.83},{"c":"m","i":29,"x":4.46,"y":-2.17},{"c":"m","i":30,"x":3.56,"y":-2.37},{"c":"m","i":31,"x":2.78,"y":-2.43},{"c":"m","i":32,"x":1.78,"y":-2.34},{"c":"m","i":33,"x":0.55,"y":-2.06},{"c":"m","i":34,"x":-0.56,"y":-1.61},{"c":"m","i":35,"x":-1.23,"y":-0.93},{"c":"m","i":36,"x":-1.6,"y":-0.08},{"c":"m","i":37,"x":-1.66,"y":0.6},{"c":"m","i":38,"x":-1.51,"y":1.62},{"c":"m","i":39,"x":-1.12,"y":2.87},{"c":"m","i":40,"x":-0.73,"y":4.23},{"c":"m","i":41,"x":-0.64,"y":5.25},{"c":"m","i":42,"x":-0.79,"y":6.38},{"c":"m","i":43,"x":-1.07,"y":7.4},{"c":"m","i":44,"x":-1.29,"y":8.53},
{"c":"tl","i":0,"x":-3.5,"y":10.32},{"c":"tl","i":1,"x":-2.8,"y":11.25},{"c":"tl","i":2,"x":-1.57,"y":12.5},
{"c":"tr","i":0,"x":11.15,"y":12.5},{"c":"tr","i":1,"x":11.94,"y":11.71},{"c":"tr","i":2,"x":12.5,"y":10.97},
{"c":"br","i":0,"x":12.5,"y":-1.25},{"c":"br","i":1,"x":11.6,"y":-2.34},{"c":"br","i":2,"x":10.48,"y":-3.5},
{"c":"bl","i":0,"x":-3.5,"y":-2},{"c":"bl","i":1,"x":-2.91,"y":-2.8},{"c":"bl","i":2,"x":-2.18,"y":-3.5}],
"rings":[{"x":2.94,"y":0.08},{"x":6,"y":8.94}],
"bar":[{"t":15},{"t":15.5},{"t":16},{"t":16.5},{"t":17},{"t":17.5},{"t":18},{"t":18.5},{"t":19},{"t":19.5},{"t":20},{"t":20.5},{"t":21},{"t":21.5},{"t":22},{"t":22.5},{"t":23},{"t":23.5},{"t":24},{"t":24.5},{"t":25},{"t":25.5},{"t":26},{"t":26.5},{"t":27},{"t":27.5},{"t":28},{"t":28.5},{"t":29},{"t":29.5},{"t":30},{"t":30.5},{"t":31},{"t":31.5},{"t":32},{"t":32.5},{"t":33},{"t":33.5},{"t":34},{"t":34.5},{"t":35},{"t":35.5},{"t":36},{"t":36.5},{"t":37},{"t":37.5},{"t":38},{"t":38.5},{"t":39},{"t":39.5},{"t":40},{"t":40.5},{"t":41},{"t":41.5},{"t":42},{"t":42.5}]
},
"layer":[
{"data":{"name":"grid"},"transform":[{"calculate":"(30.01*datum.x+19.61*datum.y-0.748*datum.z+249.66)/(1.00963-0.003306*datum.x+0.006056*datum.y-0.00164*datum.z)","as":"a"},{"calculate":"(4.944*datum.x-9.369*datum.y-18.62*datum.z+494.51)/(1.00963-0.003306*datum.x+0.006056*datum.y-0.00164*datum.z)","as":"b"},{"calculate":"(30.01*datum.x2+19.61*datum.y2-0.748*datum.z2+249.66)/(1.00963-0.003306*datum.x2+0.006056*datum.y2-0.00164*datum.z2)","as":"c"},{"calculate":"(4.944*datum.x2-9.369*datum.y2-18.62*datum.z2+494.51)/(1.00963-0.003306*datum.x2+0.006056*datum.y2-0.00164*datum.z2)","as":"d"}],"mark":{"type":"rule","stroke":"#2a3344","strokeWidth":1},"encoding":{"x":{"field":"a","type":"quantitative","scale":null},"y":{"field":"b","type":"quantitative","scale":null},"x2":{"field":"c"},"y2":{"field":"d"}}},
{"data":{"name":"piles"},"transform":[{"filter":"!datum.active"},{"calculate":"(30.01*datum.x+19.61*datum.y+249.66)/(1.00963-0.003306*datum.x+0.006056*datum.y)","as":"a"},{"calculate":"(4.944*datum.x-9.369*datum.y+494.51)/(1.00963-0.003306*datum.x+0.006056*datum.y)","as":"b"},{"calculate":"(30.01*datum.x+19.61*datum.y-0.748*datum.d+249.66)/(1.00963-0.003306*datum.x+0.006056*datum.y-0.00164*datum.d)","as":"c"},{"calculate":"(4.944*datum.x-9.369*datum.y-18.62*datum.d+494.51)/(1.00963-0.003306*datum.x+0.006056*datum.y-0.00164*datum.d)","as":"e"}],"mark":{"type":"rule","stroke":"#566377","strokeWidth":2},"encoding":{"x":{"field":"a","type":"quantitative","scale":null},"y":{"field":"b","type":"quantitative","scale":null},"x2":{"field":"c"},"y2":{"field":"e"}}},
{"data":{"name":"piles"},"transform":[{"filter":"datum.active"},{"calculate":"(30.01*datum.x+19.61*datum.y+249.66)/(1.00963-0.003306*datum.x+0.006056*datum.y)","as":"a"},{"calculate":"(4.944*datum.x-9.369*datum.y+494.51)/(1.00963-0.003306*datum.x+0.006056*datum.y)","as":"b"},{"calculate":"(30.01*datum.x+19.61*datum.y-0.748*datum.d+249.66)/(1.00963-0.003306*datum.x+0.006056*datum.y-0.00164*datum.d)","as":"c"},{"calculate":"(4.944*datum.x-9.369*datum.y-18.62*datum.d+494.51)/(1.00963-0.003306*datum.x+0.006056*datum.y-0.00164*datum.d)","as":"e"}],"mark":{"type":"rule","stroke":"#e8b24a","strokeWidth":6,"strokeCap":"round"},"encoding":{"x":{"field":"a","type":"quantitative","scale":null},"y":{"field":"b","type":"quantitative","scale":null},"x2":{"field":"c"},"y2":{"field":"e"}}},
{"data":{"name":"field"},"transform":[{"calculate":"max(datum.x-0.375,-3.5)","as":"a"},{"calculate":"min(datum.x+0.375,12.5)","as":"b"},{"calculate":"max(datum.y-0.375,-3.5)","as":"c"},{"calculate":"min(datum.y+0.375,12.5)","as":"d"},{"calculate":"'M'+(30.01*datum.a+19.61*datum.c+249.66)/(1.00963-0.003306*datum.a+0.006056*datum.c)+','+(4.944*datum.a-9.369*datum.c+494.51)/(1.00963-0.003306*datum.a+0.006056*datum.c)+'L'+(30.01*datum.b+19.61*datum.c+249.66)/(1.00963-0.003306*datum.b+0.006056*datum.c)+','+(4.944*datum.b-9.369*datum.c+494.51)/(1.00963-0.003306*datum.b+0.006056*datum.c)+'L'+(30.01*datum.b+19.61*datum.d+249.66)/(1.00963-0.003306*datum.b+0.006056*datum.d)+','+(4.944*datum.b-9.369*datum.d+494.51)/(1.00963-0.003306*datum.b+0.006056*datum.d)+'L'+(30.01*datum.a+19.61*datum.d+249.66)/(1.00963-0.003306*datum.a+0.006056*datum.d)+','+(4.944*datum.a-9.369*datum.d+494.51)/(1.00963-0.003306*datum.a+0.006056*datum.d)+'Z'","as":"path"}],"mark":{"type":"point","filled":true,"opacity":1,"strokeWidth":1.3},"encoding":{"x":{"value":0},"y":{"value":0},"size":{"value":4},"shape":{"field":"path","type":"nominal","scale":null},"fill":{"field":"t","type":"quantitative","legend":null,"scale":{"domain":[15,17.8,20,22,25,27.5,30,32,34,36,40,43],"range":["#001f4d","#00307a","#2c4072","#45506f","#62656f","#757575","#7f7e76","#8f8b72","#a39b6c","#b8ac66","#e0cc4c","#ffe62f"]}},"stroke":{"field":"t","type":"quantitative","legend":null,"scale":{"domain":[15,17.8,20,22,25,27.5,30,32,34,36,40,43],"range":["#001f4d","#00307a","#2c4072","#45506f","#62656f","#757575","#7f7e76","#8f8b72","#a39b6c","#b8ac66","#e0cc4c","#ffe62f"]}}}},
{"data":{"name":"piles"},"transform":[{"filter":"datum.active"},{"calculate":"(30.01*datum.x+19.61*datum.y+249.66)/(1.00963-0.003306*datum.x+0.006056*datum.y)","as":"a"},{"calculate":"(4.944*datum.x-9.369*datum.y+494.51)/(1.00963-0.003306*datum.x+0.006056*datum.y)","as":"b"}],"mark":{"type":"point","filled":true,"opacity":1,"strokeWidth":0,"size":4900,"shape":"M-1,0A1,0.42 0 1,1 1,0A1,0.42 0 1,1 -1,0Z","fill":{"gradient":"radial","stops":[{"offset":0,"color":"rgba(190,175,100,0.75)"},{"offset":0.3,"color":"rgba(190,175,100,0.4)"},{"offset":1,"color":"rgba(190,175,100,0)"}]}},"encoding":{"x":{"field":"a","type":"quantitative","scale":null},"y":{"field":"b","type":"quantitative","scale":null}}},
{"data":{"name":"edges"},"transform":[{"calculate":"(30.01*datum.x+19.61*datum.y-0.748*datum.z+249.66)/(1.00963-0.003306*datum.x+0.006056*datum.y-0.00164*datum.z)","as":"a"},{"calculate":"(4.944*datum.x-9.369*datum.y-18.62*datum.z+494.51)/(1.00963-0.003306*datum.x+0.006056*datum.y-0.00164*datum.z)","as":"b"},{"calculate":"(30.01*datum.x2+19.61*datum.y2-0.748*datum.z2+249.66)/(1.00963-0.003306*datum.x2+0.006056*datum.y2-0.00164*datum.z2)","as":"c"},{"calculate":"(4.944*datum.x2-9.369*datum.y2-18.62*datum.z2+494.51)/(1.00963-0.003306*datum.x2+0.006056*datum.y2-0.00164*datum.z2)","as":"d"}],"mark":{"type":"rule","stroke":"#000000","strokeWidth":1.2},"encoding":{"x":{"field":"a","type":"quantitative","scale":null},"y":{"field":"b","type":"quantitative","scale":null},"x2":{"field":"c"},"y2":{"field":"d"}}},
{"data":{"name":"ticks"},"transform":[{"calculate":"(30.01*datum.x+19.61*datum.y-0.748*datum.z+249.66)/(1.00963-0.003306*datum.x+0.006056*datum.y-0.00164*datum.z)","as":"a"},{"calculate":"(4.944*datum.x-9.369*datum.y-18.62*datum.z+494.51)/(1.00963-0.003306*datum.x+0.006056*datum.y-0.00164*datum.z)","as":"b"},{"calculate":"(30.01*datum.x2+19.61*datum.y2-0.748*datum.z2+249.66)/(1.00963-0.003306*datum.x2+0.006056*datum.y2-0.00164*datum.z2)","as":"c"},{"calculate":"(4.944*datum.x2-9.369*datum.y2-18.62*datum.z2+494.51)/(1.00963-0.003306*datum.x2+0.006056*datum.y2-0.00164*datum.z2)","as":"d"}],"mark":{"type":"rule","stroke":"#a8b4c4","strokeWidth":1.2},"encoding":{"x":{"field":"a","type":"quantitative","scale":null},"y":{"field":"b","type":"quantitative","scale":null},"x2":{"field":"c"},"y2":{"field":"d"}}},
{"data":{"name":"xlab"},"transform":[{"calculate":"(30.01*datum.x+19.61*datum.y-0.748*datum.z+249.66)/(1.00963-0.003306*datum.x+0.006056*datum.y-0.00164*datum.z)","as":"a"},{"calculate":"(4.944*datum.x-9.369*datum.y-18.62*datum.z+494.51)/(1.00963-0.003306*datum.x+0.006056*datum.y-0.00164*datum.z)","as":"b"}],"mark":{"type":"text","dx":-17,"dy":36,"font":"DejaVu Sans","fontSize":13.5,"fill":"#8a9ab0"},"encoding":{"x":{"field":"a","type":"quantitative","scale":null},"y":{"field":"b","type":"quantitative","scale":null},"text":{"field":"l"}}},
{"data":{"name":"ylab"},"transform":[{"calculate":"(30.01*datum.x+19.61*datum.y-0.748*datum.z+249.66)/(1.00963-0.003306*datum.x+0.006056*datum.y-0.00164*datum.z)","as":"a"},{"calculate":"(4.944*datum.x-9.369*datum.y-18.62*datum.z+494.51)/(1.00963-0.003306*datum.x+0.006056*datum.y-0.00164*datum.z)","as":"b"}],"mark":{"type":"text","dx":26,"dy":29,"font":"DejaVu Sans","fontSize":13.5,"fill":"#8a9ab0"},"encoding":{"x":{"field":"a","type":"quantitative","scale":null},"y":{"field":"b","type":"quantitative","scale":null},"text":{"field":"l"}}},
{"data":{"name":"zlab"},"transform":[{"calculate":"(30.01*datum.x+19.61*datum.y-0.748*datum.z+249.66)/(1.00963-0.003306*datum.x+0.006056*datum.y-0.00164*datum.z)","as":"a"},{"calculate":"(4.944*datum.x-9.369*datum.y-18.62*datum.z+494.51)/(1.00963-0.003306*datum.x+0.006056*datum.y-0.00164*datum.z)","as":"b"}],"mark":{"type":"text","align":"right","dx":48,"font":"DejaVu Sans","fontSize":13.5,"fill":"#8a9ab0"},"encoding":{"x":{"field":"a","type":"quantitative","scale":null},"y":{"field":"b","type":"quantitative","scale":null},"text":{"field":"l"}}},
{"data":{"values":[{"t":"x [m]"}]},"mark":{"type":"text","x":298,"y":899,"angle":14,"font":"DejaVu Sans","fontSize":15,"fill":"#8a9ab0"},"encoding":{"text":{"field":"t"}}},
{"data":{"values":[{"t":"y [m]"}]},"mark":{"type":"text","x":765,"y":831,"angle":-40,"font":"DejaVu Sans","fontSize":15,"fill":"#8a9ab0"},"encoding":{"text":{"field":"t"}}},
{"data":{"values":[{"t":"z [m]"}]},"mark":{"type":"text","x":901,"y":519,"angle":-90,"font":"DejaVu Sans","fontSize":15,"fill":"#8a9ab0"},"encoding":{"text":{"field":"t"}}},
{"layer":[
{"data":{"name":"field"},"transform":[{"calculate":"max(datum.x-0.375,-3.5)","as":"a"},{"calculate":"min(datum.x+0.375,12.5)","as":"b"},{"calculate":"max(datum.y-0.375,-3.5)","as":"c"},{"calculate":"min(datum.y+0.375,12.5)","as":"d"}],"mark":{"type":"rect","strokeWidth":1.5},"encoding":{"x":{"field":"a","type":"quantitative","scale":{"domain":[-3.5,12.5],"range":[914.4,1481],"nice":false,"zero":false},"axis":{"title":"x [m]","values":[-2,0,2,4,6,8,10,12],"format":"d","offset":-251,"titlePadding":6}},"x2":{"field":"b"},"y":{"field":"c","type":"quantitative","scale":{"domain":[-3.5,12.5],"range":[829,261.9],"nice":false,"zero":false},"axis":{"title":"y [m]","values":[-2,0,2,4,6,8,10,12],"format":"d","offset":-914.4,"titlePadding":22}},"y2":{"field":"d"},"fill":{"field":"t","type":"quantitative","legend":null,"scale":{"domain":[15,17.8,20,22,25,27.5,30,32,34,36,40,43],"range":["#001f4d","#00307a","#2c4072","#45506f","#62656f","#757575","#7f7e76","#8f8b72","#a39b6c","#b8ac66","#e0cc4c","#ffe62f"]}},"stroke":{"field":"t","type":"quantitative","legend":null,"scale":{"domain":[15,17.8,20,22,25,27.5,30,32,34,36,40,43],"range":["#001f4d","#00307a","#2c4072","#45506f","#62656f","#757575","#7f7e76","#8f8b72","#a39b6c","#b8ac66","#e0cc4c","#ffe62f"]}}}},
{"data":{"name":"piles"},"transform":[{"filter":"datum.active"}],"mark":{"type":"point","filled":true,"opacity":1,"strokeWidth":0,"size":14000,"fill":{"gradient":"radial","stops":[{"offset":0,"color":"rgba(215,195,120,0.3)"},{"offset":1,"color":"rgba(215,195,120,0)"}]}},"encoding":{"x":{"field":"x","type":"quantitative"},"y":{"field":"y","type":"quantitative"}}},
{"data":{"name":"contours"},"mark":{"type":"line","stroke":"#ffffff","strokeOpacity":0.3,"strokeWidth":1,"interpolate":"cardinal"},"encoding":{"x":{"field":"x","type":"quantitative"},"y":{"field":"y","type":"quantitative"},"detail":{"field":"c"},"order":{"field":"i"}}},
{"data":{"name":"rings"},"mark":{"type":"point","filled":false,"opacity":1,"stroke":"#ffffff","strokeOpacity":0.3,"strokeWidth":1,"size":1369},"encoding":{"x":{"field":"x","type":"quantitative"},"y":{"field":"y","type":"quantitative"}}},
{"data":{"values":[{"x0":-3.5,"x1":12.5}]},"mark":{"type":"rect","fillOpacity":0,"stroke":"#56657f","strokeWidth":1.2},"encoding":{"x":{"field":"x0","type":"quantitative"},"x2":{"field":"x1"},"y":{"field":"x0","type":"quantitative"},"y2":{"field":"x1"}}},
{"data":{"name":"piles"},"transform":[{"filter":"!datum.active"}],"mark":{"type":"point","filled":false,"opacity":1,"stroke":"#4d6080","strokeWidth":2.8,"size":240},"encoding":{"x":{"field":"x","type":"quantitative"},"y":{"field":"y","type":"quantitative"}}},
{"data":{"name":"piles"},"transform":[{"filter":"datum.active"}],"mark":{"type":"point","filled":true,"opacity":1,"fill":"#e8b24a","stroke":"#ffffff","strokeWidth":2.5,"size":470},"encoding":{"x":{"field":"x","type":"quantitative"},"y":{"field":"y","type":"quantitative"}}},
{"data":{"name":"piles"},"transform":[{"filter":"datum.active"}],"mark":{"type":"text","dy":-29,"dx":-1,"font":"DejaVu Sans","fontWeight":"bold","fontSize":14,"fill":"#f0f4f8"},"encoding":{"x":{"field":"x","type":"quantitative"},"y":{"field":"y","type":"quantitative"},"text":{"field":"pile"}}}
]},
{"layer":[
{"data":{"name":"bar"},"transform":[{"calculate":"datum.t+0.5","as":"t2"}],"mark":{"type":"rect","strokeWidth":1},"encoding":{"x":{"field":"t","type":"quantitative","scale":{"domain":[15,43],"range":[83.5,1406.5],"nice":false,"zero":false},"axis":{"orient":"bottom","title":"temperature drawdown after 25 years [K] - ILS screening, fixed scale","titleFontSize":14.65,"values":[15,20,25,30,35,40],"offset":-92.5,"titlePadding":4,"format":"d"}},"x2":{"field":"t2"},"y":{"datum":0,"type":"quantitative","scale":{"domain":[0,1],"range":[987.5,967.5]},"axis":null},"y2":{"datum":1},"fill":{"field":"t","type":"quantitative","legend":null,"scale":{"domain":[15,17.8,20,22,25,27.5,30,32,34,36,40,43],"range":["#001f4d","#00307a","#2c4072","#45506f","#62656f","#757575","#7f7e76","#8f8b72","#a39b6c","#b8ac66","#e0cc4c","#ffe62f"]}},"stroke":{"field":"t","type":"quantitative","legend":null,"scale":{"domain":[15,17.8,20,22,25,27.5,30,32,34,36,40,43],"range":["#001f4d","#00307a","#2c4072","#45506f","#62656f","#757575","#7f7e76","#8f8b72","#a39b6c","#b8ac66","#e0cc4c","#ffe62f"]}}}},
{"data":{"values":[{"a":15,"b":43}]},"mark":{"type":"rect","fillOpacity":0,"stroke":"#56657f","strokeWidth":1.5},"encoding":{"x":{"field":"a","type":"quantitative"},"x2":{"field":"b"},"y":{"datum":0,"type":"quantitative","axis":null},"y2":{"datum":1}}}
]},
{"data":{"values":[{}]},"mark":{"type":"rect","x":1523,"x2":2068.5,"y":166.5,"y2":922.5,"fill":"#101a2b","stroke":"#222d3f","strokeWidth":1},"encoding":{}},
{"data":{"values":[{}]},"mark":{"type":"rule","x":1523,"x2":2068.5,"y":166.5,"y2":166.5,"stroke":"#45546b","strokeWidth":1},"encoding":{}},
{"data":{"values":[{}]},"mark":{"type":"rule","x":1523,"x2":1523,"y":166.5,"y2":922.5,"stroke":"#45546b","strokeWidth":1},"encoding":{}},
{"data":{"values":[{"d":1}]},"mark":{"type":"rect","fill":"#56b4d6"},"encoding":{"x":{"field":"d","type":"quantitative","axis":null,"scale":{"domain":[0,1],"range":[1560.5,2030.5]}},"x2":{"datum":0},"y":{"datum":0,"type":"quantitative","axis":null,"scale":{"domain":[0,1],"range":[488.5,467.5]}},"y2":{"datum":1}}},
{"data":{"values":[{"t":"16-PILE FIELD - ACTIVATION-LAYOUT SEARCH"}]},"mark":{"type":"text","x":66.5,"y":76,"align":"left","baseline":"alphabetic","font":"DejaVu Sans","fontWeight":"bold","fontSize":35.4,"fill":"#f4f8fc"},"encoding":{"text":{"field":"t"}}},
{"data":{"values":[{"t":"4 x 4 grid, 3 m spacing\u00a0\u00a0-\u00a0\u00a0select 6 of 16\u00a0\u00a0-\u00a0\u00a0pairwise infinite-line-source interference, 25-year horizon"}]},"mark":{"type":"text","x":66.5,"y":109.5,"align":"left","baseline":"alphabetic","font":"DejaVu Sans","fontSize":19.75,"fill":"#8a9bb0"},"encoding":{"text":{"field":"t"}}},
{"data":{"values":[{"t":"PLAN VIEW"}]},"mark":{"type":"text","x":913,"y":134,"align":"left","baseline":"alphabetic","font":"DejaVu Sans","fontWeight":"bold","fontSize":18.9,"fill":"#4fb3d4"},"encoding":{"text":{"field":"t"}}},
{"data":{"values":[{"t":"3-D FIELD VIEW"}]},"mark":{"type":"text","x":93,"y":166,"align":"left","baseline":"alphabetic","font":"DejaVu Sans","fontWeight":"bold","fontSize":18.8,"fill":"#4fb3d4"},"encoding":{"text":{"field":"t"}}},
{"data":{"values":[{"t":"ILS drawdown on the ground plane - rods mark line sources (no z-dependence)"}]},"mark":{"type":"text","x":93,"y":196,"align":"left","baseline":"alphabetic","font":"DejaVu Sans","fontSize":15.1,"fill":"#8a9bb0"},"encoding":{"text":{"field":"t"}}},
{"data":{"values":[{"t":"DISCRETE SEARCH"}]},"mark":{"type":"text","x":1560,"y":208,"align":"left","baseline":"alphabetic","font":"DejaVu Sans","fontWeight":"bold","fontSize":19.8,"fill":"#4fb3d4"},"encoding":{"text":{"field":"t"}}},
{"data":{"values":[{"t":"C(16, 6) = 8,008 layouts"}]},"mark":{"type":"text","x":1560,"y":247,"align":"left","baseline":"alphabetic","font":"DejaVu Sans","fontSize":20.9,"fill":"#f0f4f8"},"encoding":{"text":{"field":"t"}}},
{"data":{"values":[{"t":"exact enumeration certifies the optimum"}]},"mark":{"type":"text","x":1560,"y":278,"align":"left","baseline":"alphabetic","font":"DejaVu Sans","fontSize":16.3,"fill":"#7f8da3"},"encoding":{"text":{"field":"t"}}},
{"data":{"values":[{"t":"CURRENT LAYOUT"}]},"mark":{"type":"text","x":1560,"y":336,"align":"left","baseline":"alphabetic","font":"DejaVu Sans","fontWeight":"bold","fontSize":19.7,"fill":"#4fb3d4"},"encoding":{"text":{"field":"t"}}},
{"data":{"values":[{"t":"P1 P2 P4 P13 P15 P16"}]},"mark":{"type":"text","x":1560,"y":374,"align":"left","baseline":"alphabetic","font":"DejaVu Sans Mono","fontWeight":"bold","fontSize":19.7,"fill":"#e8b24a"},"encoding":{"text":{"field":"t"}}},
{"data":{"values":[{"t":"objective\u00a0\u00a0H = 53.9798"}]},"mark":{"type":"text","x":1560,"y":418,"align":"left","baseline":"alphabetic","font":"DejaVu Sans Mono","fontSize":20.9,"fill":"#f0f4f8"},"encoding":{"text":{"field":"t"}}},
{"data":{"values":[{"t":"rank 1 of 8,008"}]},"mark":{"type":"text","x":1560,"y":454,"align":"left","baseline":"alphabetic","font":"DejaVu Sans Mono","fontSize":17.5,"fill":"#7f8da3"},"encoding":{"text":{"field":"t"}}},
{"data":{"values":[{"t":"distance to certified optimum"}]},"mark":{"type":"text","x":1560,"y":516,"align":"left","baseline":"alphabetic","font":"DejaVu Sans","fontSize":15.1,"fill":"#7f8da3"},"encoding":{"text":{"field":"t"}}},
{"data":{"values":[{"t":"CERTIFIED OPTIMUM"}]},"mark":{"type":"text","x":1560,"y":579,"align":"left","baseline":"alphabetic","font":"DejaVu Sans","fontWeight":"bold","fontSize":21.9,"fill":"#e8b24a"},"encoding":{"text":{"field":"t"}}},
{"data":{"values":[{"t":"exact enumeration - 8,008 evals - 0.017 s"}]},"mark":{"type":"text","x":1560,"y":615,"align":"left","baseline":"alphabetic","font":"DejaVu Sans","fontSize":17,"fill":"#f0f4f8"},"encoding":{"text":{"field":"t"}}},
{"data":{"values":[{"t":"GROUND (demo defaults)"}]},"mark":{"type":"text","x":1560,"y":711,"align":"left","baseline":"alphabetic","font":"DejaVu Sans","fontWeight":"bold","fontSize":19.75,"fill":"#4fb3d4"},"encoding":{"text":{"field":"t"}}},
{"data":{"values":[{"t":"lam 2.0 W/m-K - alpha 1e-6 m2/s"}]},"mark":{"type":"text","x":1560,"y":745,"align":"left","baseline":"alphabetic","font":"DejaVu Sans Mono","fontSize":17,"fill":"#f0f4f8"},"encoding":{"text":{"field":"t"}}},
{"data":{"values":[{"t":"q 30 W/m"}]},"mark":{"type":"text","x":1560,"y":766,"align":"left","baseline":"alphabetic","font":"DejaVu Sans Mono","fontSize":17,"fill":"#f0f4f8"},"encoding":{"text":{"field":"t"}}},
{"data":{"values":[{"t":"EVIDENCE CONTROL"}]},"mark":{"type":"text","x":1560,"y":816,"align":"left","baseline":"alphabetic","font":"DejaVu Sans","fontWeight":"bold","fontSize":19.8,"fill":"#4fb3d4"},"encoding":{"text":{"field":"t"}}},
{"data":{"values":[{"t":"screening model only - infinite line source,"}]},"mark":{"type":"text","x":1560,"y":849,"align":"left","baseline":"alphabetic","font":"DejaVu Sans","fontSize":15.4,"fill":"#7f8da3"},"encoding":{"text":{"field":"t"}}},
{"data":{"values":[{"t":"homogeneous ground - NOT a solved FE field -"}]},"mark":{"type":"text","x":1560,"y":866,"align":"left","baseline":"alphabetic","font":"DejaVu Sans","fontSize":15.4,"fill":"#7f8da3"},"encoding":{"text":{"field":"t"}}},
{"data":{"values":[{"t":"selected layouts re-simulated with full solver"}]},"mark":{"type":"text","x":1560,"y":883,"align":"left","baseline":"alphabetic","font":"DejaVu Sans","fontSize":15.4,"fill":"#7f8da3"},"encoding":{"text":{"field":"t"}}},
{"data":{"values":[{"t":"TERRA - JUMP DISCRETE-OPTIMIZATION DEMONSTRATOR\u00a0\u00a0\u00a0-\u00a0\u00a0\u00a0data: demo_pile16_summary.json (2026-07-21)\u00a0\u00a0\u00a0-\u00a0\u00a0\u00a010 real evaluated layouts, no interpolation"}]},"mark":{"type":"text","x":66.5,"y":1070,"align":"left","baseline":"alphabetic","font":"DejaVu Sans","fontSize":14.65,"fill":"#556378"},"encoding":{"text":{"field":"t"}}}
],
"resolve":{"scale":{"x":"independent","y":"independent"},"axis":{"x":"independent","y":"independent"}}}
